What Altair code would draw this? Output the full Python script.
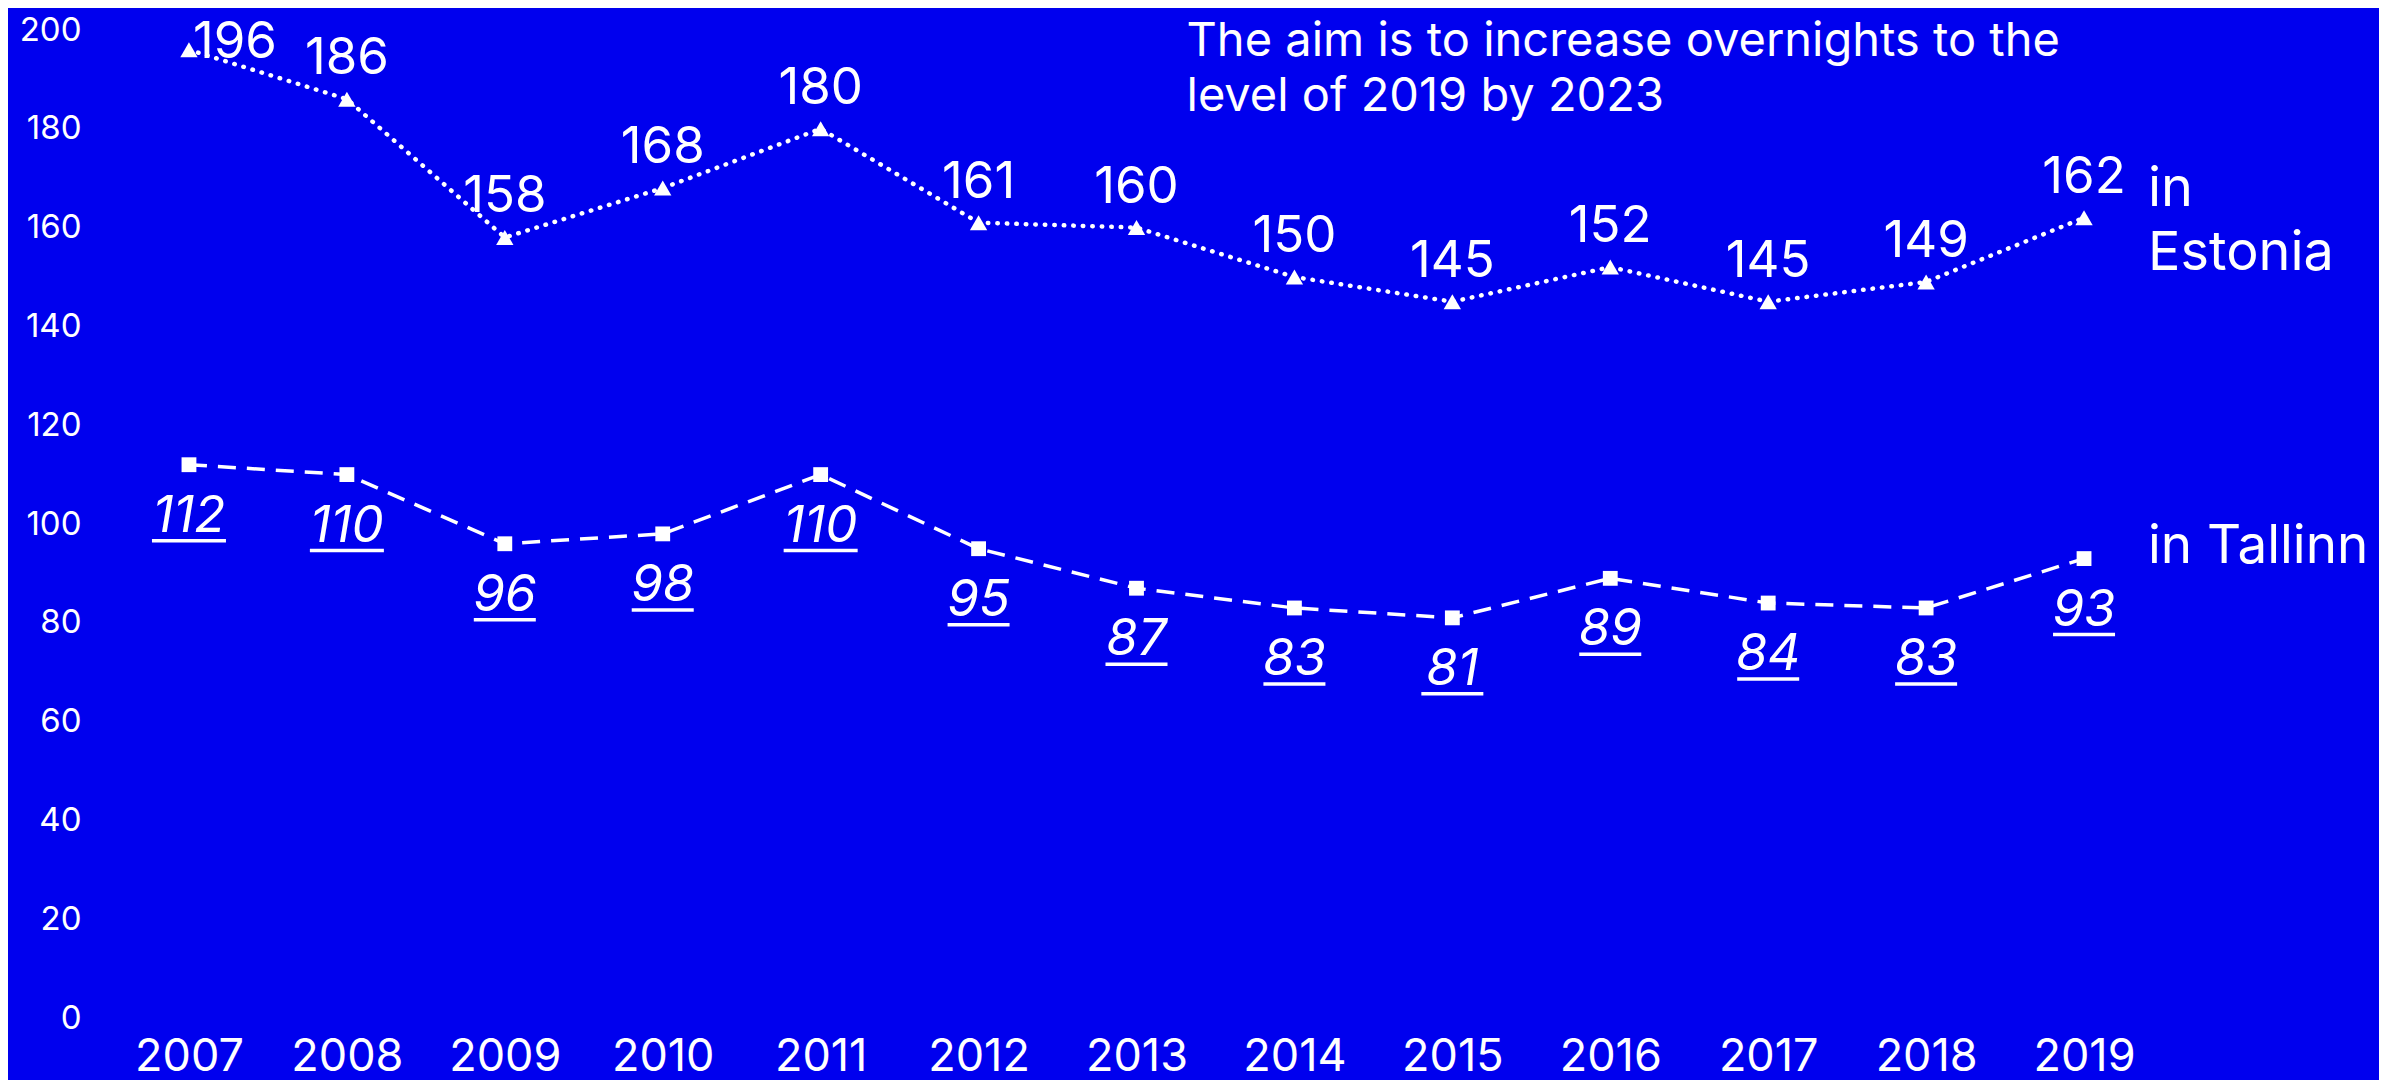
import altair as alt
import pandas as pd

years = [2007, 2008, 2009, 2010, 2011, 2012, 2013, 2014, 2015, 2016, 2017, 2018, 2019]
estonia = [196, 186, 158, 168, 180, 161, 160, 150, 145, 152, 145, 149, 162]
tallinn = [112, 110, 96, 98, 110, 95, 87, 83, 81, 89, 84, 83, 93]
y_ticks = [0, 20, 40, 60, 80, 100, 120, 140, 160, 180, 200]
note_text = ["The aim is to increase overnights to the", "level of 2019 by 2023"]

FONT = "Inter"
WHITE = "#ffffff"
BG = "#0000EE"

est_df = pd.DataFrame({"year": years, "value": estonia})
tal_df = pd.DataFrame({"year": years, "value": tallinn})

x_enc = alt.X(
    "year:O",
    scale=alt.Scale(type="point", padding=0.5),
    axis=alt.Axis(
        title=None, labelAngle=0, domain=False, ticks=False, grid=False,
        labelColor=WHITE, labelFont=FONT, labelFontSize=45, labelPadding=16,
    ),
)
y_enc = alt.Y(
    "value:Q",
    scale=alt.Scale(domain=[0, 200], nice=False, zero=True),
    axis=alt.Axis(
        title=None, values=y_ticks, domain=False, ticks=False, grid=False,
        labelColor=WHITE, labelFont=FONT, labelFontSize=33, labelPadding=29,
    ),
)

est = alt.Chart(est_df).encode(x=x_enc, y=y_enc)
tal = alt.Chart(tal_df).encode(x=x_enc, y=y_enc)

est_line = est.mark_line(color=WHITE, strokeWidth=4.5, strokeDash=[0.5, 9], strokeCap="round")
est_pts = est.mark_point(shape="triangle-up", filled=True, size=300, color=WHITE, opacity=1)
est_lbl_main = est.transform_filter(alt.datum.year != 2007).mark_text(
    font=FONT, fontSize=51, color=WHITE, baseline="middle", dy=-40
).encode(text="value:Q")
est_lbl_first = est.transform_filter(alt.datum.year == 2007).mark_text(
    font=FONT, fontSize=51, color=WHITE, baseline="middle", dx=46, dy=-7
).encode(text="value:Q")

tal_line = tal.mark_line(color=WHITE, strokeWidth=3.5, strokeDash=[18, 11])
tal_pts = tal.mark_square(size=220, filled=True, color=WHITE, opacity=1)
tal_lbl = tal.mark_text(
    font=FONT, fontSize=51, fontStyle="italic", color=WHITE, baseline="middle", dy=52
).encode(text="value:Q")
tal_ul = tal.mark_tick(orient="horizontal", thickness=3.5, color=WHITE, yOffset=76, opacity=1).encode(
    size=alt.condition(alt.datum.value >= 100, alt.value(74), alt.value(62))
)

end_df_est = pd.DataFrame({"year": [years[-1]], "value": [estonia[-1]], "label": ["in\nEstonia"]})
end_df_tal = pd.DataFrame({"year": [years[-1]], "value": [tallinn[-1]], "label": ["in Tallinn"]})
end_est = alt.Chart(end_df_est).mark_text(
    font=FONT, fontSize=54, color=WHITE, align="left", baseline="middle",
    dx=64, dy=-28, lineBreak="\n", lineHeight=64
).encode(x=x_enc, y=y_enc, text="label:N")
end_tal = alt.Chart(end_df_tal).mark_text(
    font=FONT, fontSize=53, color=WHITE, align="left", baseline="middle", dx=64, dy=-12
).encode(x=x_enc, y=y_enc, text="label:N")

note_df = pd.DataFrame({"year": [2013], "value": [200], "label": ["\n".join(note_text)]})
note = alt.Chart(note_df).mark_text(
    font=FONT, fontSize=47, color=WHITE, align="left", baseline="alphabetic",
    dx=50, dy=26, lineBreak="\n", lineHeight=55
).encode(x=x_enc, y=y_enc, text="label:N")

chart = alt.layer(
    est_line, tal_line, est_pts, tal_pts, est_lbl_main, est_lbl_first,
    tal_lbl, tal_ul, end_est, end_tal, note,
).properties(
    width=2053, height=988,
    background=BG,
    autosize=alt.AutoSizeParams(type="none"),
    padding={"left": 102, "top": 22, "right": 216, "bottom": 62},
).configure_view(stroke=None)

chart.save("out.html", embed_options={"renderer": "svg", "actions": False})
